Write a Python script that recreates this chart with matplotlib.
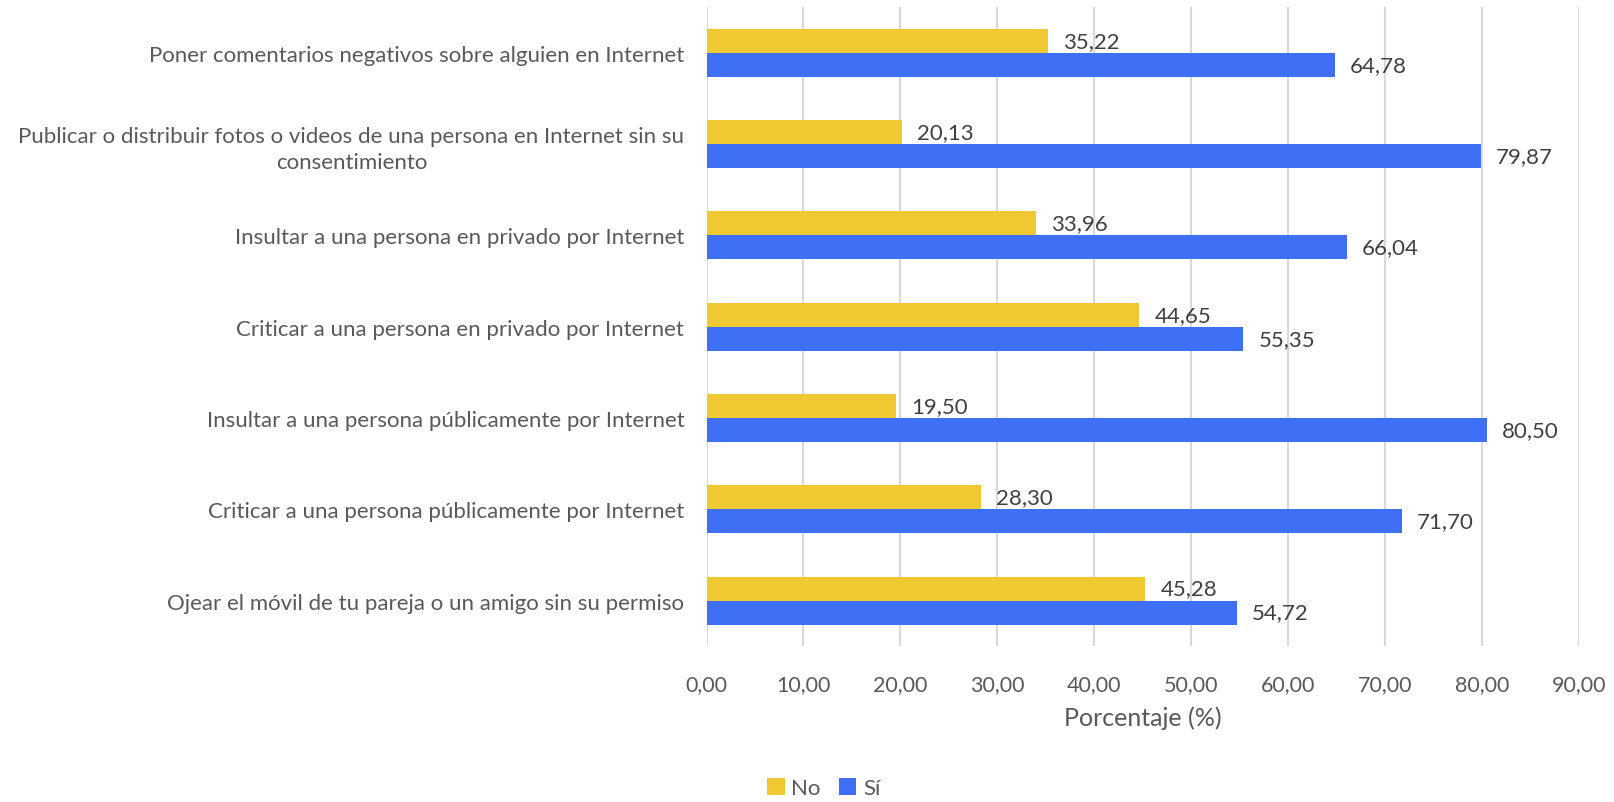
import matplotlib
matplotlib.use('Agg')
import matplotlib.pyplot as plt
import numpy as np

# Data
categorias = [
    'Poner comentarios negativos sobre alguien en Internet',
    'Publicar o distribuir fotos o videos de una persona en Internet sin su\nconsentimiento',
    'Insultar a una persona en privado por Internet',
    'Criticar a una persona en privado por Internet',
    'Insultar a una persona públicamente por Internet',
    'Criticar a una persona públicamente por Internet',
    'Ojear el móvil de tu pareja o un amigo sin su permiso',
]
valores_no = [35.22, 20.13, 33.96, 44.65, 19.50, 28.30, 45.28]
valores_si = [64.78, 79.87, 66.04, 55.35, 80.50, 71.70, 54.72]
ticks_x = [0, 10, 20, 30, 40, 50, 60, 70, 80, 90]

color_no = '#F0C832'
color_si = '#3F6FF5'
gris_texto = '#595959'

plt.rcParams['font.family'] = ['Lato', 'DejaVu Sans']

fig = plt.figure(figsize=(16.15, 8.03), dpi=100)
ax = fig.add_axes([0.4375, 0.194, 0.5402, 0.796])

y = np.arange(len(categorias))
h = 0.263

bars_no = ax.barh(y - h / 2, valores_no, height=h, color=color_no, label='No', zorder=3)
bars_si = ax.barh(y + h / 2, valores_si, height=h, color=color_si, label='Sí', zorder=3)

# data labels with comma decimals
for bars in (bars_no, bars_si):
    for b in bars:
        v = b.get_width()
        ax.annotate(f'{v:.2f}'.replace('.', ','),
                    xy=(v, b.get_y() + b.get_height() / 2),
                    xytext=(11, 0), textcoords='offset points',
                    va='center', ha='left', fontsize=16, color='#404040')

ax.set_xlim(0, 90)
ax.set_ylim(len(categorias) - 0.5, -0.5)
ax.set_xticks(ticks_x)
ax.set_xticklabels([f'{t:.2f}'.replace('.', ',') for t in ticks_x], fontsize=15.5, color=gris_texto)
ax.set_yticks(y)
ax.set_yticklabels(categorias, fontsize=16, color=gris_texto, multialignment='center',
                   linespacing=1.35)
ax.tick_params(axis='both', length=0)
ax.tick_params(axis='x', pad=20)
ax.tick_params(axis='y', pad=16)

ax.grid(axis='x', color='#D9D9D9', linewidth=1.5, zorder=0)
for s in ax.spines.values():
    s.set_visible(False)

ax.set_xlabel('Porcentaje (%)', fontsize=18, color=gris_texto, labelpad=8)

fig.legend(handles=[bars_no, bars_si], labels=['No', 'Sí'], loc='center',
           bbox_to_anchor=(0.51, 0.0174), ncol=2, frameon=False, fontsize=16,
           handlelength=0.8, handleheight=0.8, handletextpad=0.3, columnspacing=0.8,
           labelcolor=gris_texto)

fig.savefig('out.png', dpi=100)
